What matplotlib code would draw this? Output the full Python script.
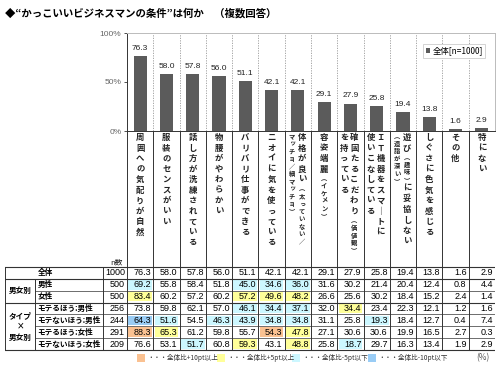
import numpy as np
import matplotlib
matplotlib.use('Agg')
import matplotlib.pyplot as plt
from matplotlib.patches import Rectangle

plt.rcParams['font.family'] = ['Noto Sans CJK JP', 'DejaVu Sans']

title = '◆“かっこいいビジネスマンの条件”は何か　（複数回答）'

# vertical labels, one string per text column (right column first); （…） drawn small
labels = [
    ['周囲への気配りが自然'],
    ['服装のセンスがいい'],
    ['話し方が洗練されている'],
    ['物腰がやわらかい'],
    ['バリバリ仕事ができる'],
    ['ニオイに気を使っている'],
    ['体格が良い（太っていない／', 'マッチョ／細マッチョ）'],
    ['容姿端麗（イケメン）'],
    ['確固たるこだわり（価値観）', 'を持っている'],
    ['ＩＴ機器をスマートに', '使いこなしている'],
    ['遊び（趣味）に妥協しない', '（造詣が深い）'],
    ['しぐさに色気を感じる'],
    ['その他'],
    ['特にない'],
]

total = [76.3, 58.0, 57.8, 56.0, 51.1, 42.1, 42.1, 29.1, 27.9, 25.8, 19.4, 13.8, 1.6, 2.9]
male = [69.2, 55.8, 58.4, 51.8, 45.0, 34.6, 36.0, 31.6, 30.2, 21.4, 20.4, 12.4, 0.8, 4.4]
female = [83.4, 60.2, 57.2, 60.2, 57.2, 49.6, 48.2, 26.6, 25.6, 30.2, 18.4, 15.2, 2.4, 1.4]
mote_male = [73.8, 59.8, 62.1, 57.0, 46.1, 34.4, 37.1, 32.0, 34.4, 23.4, 22.3, 12.1, 1.2, 1.6]
nonmote_male = [64.3, 51.6, 54.5, 46.3, 43.9, 34.8, 34.8, 31.1, 25.8, 19.3, 18.4, 12.7, 0.4, 7.4]
mote_female = [88.3, 65.3, 61.2, 59.8, 55.7, 54.3, 47.8, 27.1, 30.6, 30.6, 19.9, 16.5, 2.7, 0.3]
nonmote_female = [76.6, 53.1, 51.7, 60.8, 59.3, 43.1, 48.8, 25.8, 18.7, 29.7, 16.3, 13.4, 1.9, 2.9]

row_names = ['全体', '男性', '女性', 'モテるほう:男性', 'モテないほう:男性',
             'モテるほう:女性', 'モテないほう:女性']
row_n = [1000, 500, 500, 256, 244, 291, 209]
rows = [total, male, female, mote_male, nonmote_male, mote_female, nonmote_female]

legend_items = ['・・・全体比+10pt以上', '・・・全体比+5pt以上',
                '・・・全体比-5pt以下', '・・・全体比-10pt以下']
legend_colors = ['#FAC191', '#FFFF99', '#CCF7FF', '#99CCF5']


def cell_color(v, base):
    d = round(v - base, 1)
    if d >= 10:
        return legend_colors[0]
    if d >= 5:
        return legend_colors[1]
    if d <= -10:
        return legend_colors[3]
    if d <= -5:
        return legend_colors[2]
    return None


W, H = 500, 366
fig = plt.figure(figsize=(W / 100, H / 100), dpi=100)

# layout in pixels
x_left, x_right = 127, 495
y100, y0 = 33, 131
tab_top, tab_bot = 267, 350
cw = (x_right - x_left) / len(total)
rh = (tab_bot - tab_top) / len(rows)

ax = fig.add_axes([x_left / W, 1 - y0 / H, (x_right - x_left) / W, (y0 - y100) / H])
x = np.arange(len(total))
bars = ax.bar(x, total, width=0.5, color='#5b5b5b', label='全体[n=1000]', zorder=3)
for xi, v in zip(x, total):
    ax.annotate(f'{v:.1f}', (xi, v), xytext=(0, 3), textcoords='offset points',
                ha='center', va='bottom', fontsize=6, family=['Liberation Sans'], color='#222')
ax.set_xlim(-0.5, len(total) - 0.5)
ax.set_ylim(0, 100)
ax.set_xticks([])
ax.set_yticks([0, 50, 100])
ax.set_yticklabels(['0%', '50%', '100%'], fontsize=6, color='#666', family=['Liberation Sans'])
ax.tick_params(axis='y', length=2, width=0.6, color='#333', pad=2)
for xi in x[:-1]:
    ax.axvline(xi + 0.5, color='#999', lw=0.6, ls=(0, (1.5, 1.5)), zorder=1)
ax.spines['left'].set_color('#333')
ax.spines['bottom'].set_color('#333')
ax.spines['top'].set_color('#bbb')
ax.spines['right'].set_color('#bbb')
for s in ax.spines.values():
    s.set_linewidth(0.7)
leg = ax.legend(loc='upper right', bbox_to_anchor=(0.985, 0.93), fontsize=6,
                handlelength=0.5, handleheight=0.5, handletextpad=0.3,
                borderpad=0.3, fancybox=False, framealpha=1)
leg.get_frame().set_edgecolor('#ccc')
leg.get_frame().set_linewidth(0.6)

# table + label area, x in same column units as bars, y in row units
X0 = -0.5 - (x_left - 5) / cw
L = (tab_top - y0) / rh
ybot = len(rows) + (H - tab_bot) / rh
ax_t = fig.add_axes([5 / W, 0, (x_right - 5) / W, 1 - y0 / H])
ax_t.set_xlim(X0, len(total) - 0.5)
ax_t.set_ylim(ybot, -L)
ax_t.axis('off')

x_split = -0.5 - (x_left - 35) / cw
x_n = -0.5 - (x_left - 103) / cw
dark = '#333'

# vertical labels
vert_map = {'（': '︵', '）': '︶', 'ー': '｜'}
for i, cols in enumerate(labels):
    offsets = [0.0] if len(cols) == 1 else [0.15, -0.23]
    small = False
    for col, dx in zip(cols, offsets):
        y = -L + 0.1
        for ch in col:
            if ch == '（':
                small = True
            s = small
            if ch == '）':
                small = False
            step = 0.63 if s else 0.89
            ax_t.text(i + dx, y + step / 2, vert_map.get(ch, ch), ha='center', va='center',
                      fontsize=4.5 if s else 6, fontweight='bold', color='#222')
            y += step

# column lines
for i in range(-1, len(total)):
    ax_t.plot([i + 0.5, i + 0.5], [-L, len(rows)], color=dark, lw=0.7)
ax_t.plot([x_n, x_n], [0, len(rows)], color=dark, lw=0.7)
ax_t.plot([X0, X0], [0, len(rows)], color=dark, lw=0.7)
ax_t.plot([x_split, x_split], [1, len(rows)], color=dark, lw=0.7)

# row lines
for r in range(len(rows) + 1):
    major = r in (0, 1, 3, len(rows))
    ax_t.plot([X0 if major else x_split, len(total) - 0.5], [r, r], color=dark,
              lw=0.8 if major else 0.5)

ax_t.text(-0.9, -0.05, 'n数', ha='center', va='bottom', fontsize=5.5, color='#222')

for r, (name, n, vals) in enumerate(zip(row_names, row_n, rows)):
    yc = r + 0.5
    if r == 0:
        ax_t.text(-3.6, yc, name, ha='center', va='center', fontsize=5.5, fontweight='bold')
    else:
        ax_t.text(x_split + 0.1, yc, name, ha='left', va='center', fontsize=5.5, fontweight='bold')
    ax_t.text(-0.5 - 0.08, yc, str(n), ha='right', va='center', fontsize=6.5,
              family=['Liberation Sans'])
    for i, v in enumerate(vals):
        c = cell_color(v, total[i])
        if c is not None:
            ax_t.add_patch(Rectangle((i - 0.5 + 0.05, r + 0.1), 0.9, 0.8, color=c, lw=0))
        ax_t.text(i + 0.5 - 0.08, yc, f'{v:.1f}', ha='right', va='center', fontsize=6.5,
                  family=['Liberation Sans'])

ax_t.text((X0 + x_split) / 2, 2, '男女別', ha='center', va='center', fontsize=5.5, fontweight='bold')
ax_t.text((X0 + x_split) / 2, 5, 'タイプ\n×\n男女別', ha='center', va='center', fontsize=5.5,
          fontweight='bold', linespacing=1.3)

# colour legend under the table
ly = len(rows) + 0.67
for lx, txt, c in zip([-0.12, 2.92, 5.78, 8.67], legend_items, legend_colors):
    ax_t.add_patch(Rectangle((lx, ly - 0.3), 0.3, 0.6, color=c, lw=0))
    ax_t.text(lx + 0.38, ly, txt, ha='left', va='center', fontsize=4.8, color='#333')
ax_t.text(13.05, ly, '(%)', ha='center', va='center', fontsize=6, color='#555')

fig.text(5 / W, 1 - 13 / H, title, fontsize=7.5, fontweight='bold', va='center', ha='left')

fig.savefig('out.png', dpi=100)
